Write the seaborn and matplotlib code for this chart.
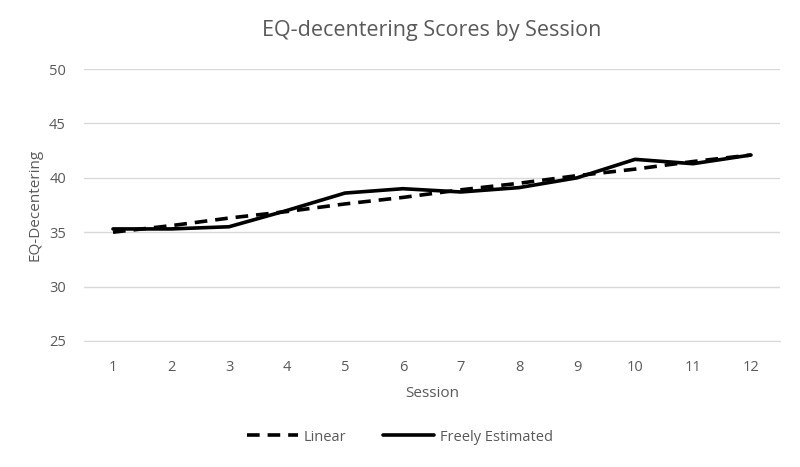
import pandas as pd
import seaborn as sns
import matplotlib.pyplot as plt

# 数据
sessions = [1, 2, 3, 4, 5, 6, 7, 8, 9, 10, 11, 12]
linear = [35.0, 35.6, 36.3, 36.9, 37.6, 38.2, 38.9, 39.5, 40.2, 40.8, 41.5, 42.1]
freely = [35.3, 35.3, 35.5, 37.0, 38.6, 39.0, 38.7, 39.1, 40.0, 41.7, 41.3, 42.1]

df = pd.DataFrame({
    'Session': sessions * 2,
    'Score': linear + freely,
    'Model': ['Linear'] * 12 + ['Freely Estimated'] * 12,
})

sns.set_style('white')
plt.rcParams['font.family'] = ['Open Sans', 'DejaVu Sans']
grey = '#595959'

fig, ax = plt.subplots(figsize=(8, 4.67), dpi=100)
fig.subplots_adjust(left=0.105, right=0.975, top=0.852, bottom=0.27)

sns.lineplot(data=df, x='Session', y='Score', hue='Model', style='Model',
             palette=['black', 'black'], dashes={'Linear': (3.5, 2.2), 'Freely Estimated': ''},
             linewidth=2.6, ax=ax, legend=False)

ax.set_xlim(0.5, 12.5)
ax.set_ylim(25, 50)
ax.set_xticks(sessions)
ax.set_yticks([25, 30, 35, 40, 45, 50])
ax.yaxis.grid(True, color='#d9d9d9', linewidth=1)
ax.set_axisbelow(True)
for s in ['top', 'right', 'left']:
    ax.spines[s].set_visible(False)
ax.spines['bottom'].set_color('#d9d9d9')
ax.tick_params(axis='x', length=0, labelsize=10.5, labelcolor=grey, pad=14)
ax.tick_params(axis='y', length=0, labelsize=10.5, labelcolor=grey, pad=13)

ax.set_xlabel('Session', fontsize=11, color=grey, labelpad=8)
ax.set_ylabel('EQ-Decentering', fontsize=11, color=grey, labelpad=5)
ax.set_title('EQ-decentering Scores by Session', fontsize=15.5, color=grey, pad=24)

h1, = ax.plot([], [], color='black', linewidth=2.6, dashes=(3.5, 2.2))
h2, = ax.plot([], [], color='black', linewidth=2.6)
fig.legend([h1, h2], ['Linear', 'Freely Estimated'], loc='lower center',
           bbox_to_anchor=(0.5, 0.02), ncol=2, frameon=False, fontsize=10.5,
           labelcolor=grey, handlelength=3.5, handletextpad=0.4, columnspacing=2.5)

fig.savefig('out.png', dpi=100)
